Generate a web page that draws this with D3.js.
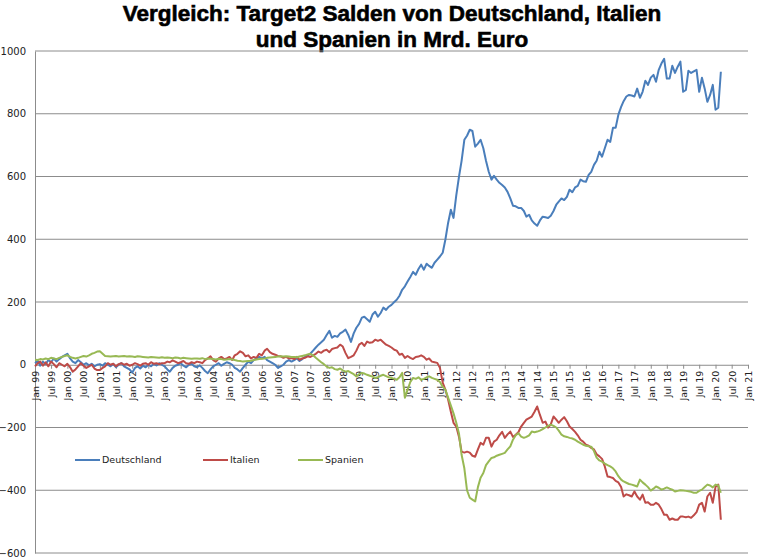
<!DOCTYPE html>
<html>
<head>
<meta charset="utf-8">
<script src="https://cdn.jsdelivr.net/npm/d3@7"></script>
<style>
  body { margin: 0; background: #fff; }
  svg { display: block; }
</style>
</head>
<body>
<svg id="chart" width="757" height="559"></svg>
<script>
// Monatswerte Jan 1999 .. Mar 2020 (Mrd. Euro), one row per year
const deutschland = [
  5, 12, -3, 10, 2, 15, 8, 20, 10, 18, 25, 30,
  35, 20, 10, 5, 15, 8, 0, 5, -2, 3, -5, 0,
  2, -3, 5, 0, -5, 3, -8, 0, 5, -5, -10, -15,
  -25, -10, -5, -12, -3, -8, 0, -5, 3, -2, 5, 0,
  -5, -15, -22, -10, -3, 0, 5, -3, -8, 0, 3, -5,
  -8, -2, -10, -20, -27, -15, -5, 0, 5, -3, 3, 8,
  5, 0, -10, -15, -22, -10, 0, 10, 5, 15, 20, 25,
  20, 25, 15, 10, 5, 0, -10, -5, 0, 10, 15, 10,
  15, 20, 12, 18, 25, 30, 35, 45, 55, 64, 72, 80,
  95, 108, 86, 92, 89, 100, 105, 112, 95, 73, 100, 118,
  130, 150, 153, 145, 137, 160, 169, 153, 165, 182, 175, 185,
  191, 200, 207, 220, 239, 250, 265, 280, 296, 287, 305, 319,
  303, 322, 315, 309, 325, 335, 345, 357, 400, 452, 494, 468,
  540, 600, 650, 717, 730, 749, 745, 695, 705, 717, 690, 650,
  615, 590, 602, 590, 580, 573, 565, 551, 530, 507, 505, 500,
  500, 490, 472, 478, 460, 450, 443, 460, 472, 470, 468, 475,
  490, 510, 520, 530, 525, 535, 558, 550, 565, 570, 590, 585,
  583, 605, 615, 637, 650, 679, 663, 690, 717, 710, 755, 755,
  797, 822, 840, 855, 860, 858, 855, 880, 851, 870, 905, 892,
  915, 924, 902, 940, 960, 975, 912, 912, 953, 930, 950, 966,
  870, 876, 937, 930, 935, 940, 870, 915, 880, 838, 860, 892,
  813, 819, 934
];
const italien = [
  -5, 5, 10, -3, 8, -5, 10, 2, -8, 5, 0, -5,
  3, -8, -22, -15, -5, 5, -3, -10, -5, 0, -12, -17,
  -17, -10, -5, 5, 0, 3, -5, 2, 5, 0, 3, -3,
  0, 5, 2, -3, 3, 5, 0, 8, 3, 5, 2, 5,
  5, 10, 8, 14, 10, 5, 8, 12, 5, 3, 8, 5,
  10, 8, 5, 15, 20, 27, 15, 10, 20, 25, 18, 20,
  25, 15, 30, 35, 43, 38, 27, 30, 20, 25, 22, 35,
  30, 45, 51, 40, 35, 32, 28, 27, 22, 25, 20, 21,
  18, 25, 16, 20, 22, 27, 25, 30, 35, 42, 38, 45,
  48, 40, 50, 53, 55, 64, 58, 37, 21, 25, 30, 45,
  64, 70, 60, 74, 70, 72, 80, 76, 80, 72, 64, 60,
  55, 48, 45, 32, 35, 22, 28, 22, 18, 25, 26, 30,
  25, 16, 20, 10, 8, 6, -10, -57, -80, -111, -150, -185,
  -197, -230, -277, -280, -277, -280, -290, -293, -270, -249, -255, -233,
  -233, -261, -245, -239, -225, -214, -233, -222, -213, -230, -223, -215,
  -197, -185, -175, -170, -165, -150, -133, -160, -185, -181, -200, -190,
  -165, -175, -185, -175, -167, -180, -197, -205, -214, -225, -239, -245,
  -255, -258, -265, -270, -285, -292, -300, -324, -356, -358, -361, -370,
  -375, -390, -420, -413, -416, -420, -404, -420, -430, -414, -440, -438,
  -446, -446, -440, -446, -460, -478, -478, -494, -490, -494, -494, -484,
  -484, -486, -484, -488, -480, -470, -446, -440, -468, -420, -408, -440,
  -389, -382, -494
];
const spanien = [
  16, 15, 18, 17, 20, 18, 22, 20, 18, 22, 25, 28,
  30, 25, 22, 20, 22, 25, 28, 26, 30, 35, 38, 42,
  43, 35, 28, 27, 26, 27, 28, 26, 27, 28, 26, 27,
  26, 25, 27, 26, 25, 24, 23, 25, 24, 23, 22, 24,
  22, 23, 22, 21, 23, 22, 20, 22, 21, 20, 19, 20,
  20, 19, 21, 18, 20, 19, 18, 17, 19, 18, 16, 17,
  18, 17, 15, 13, 12, 10, 11, 12, 13, 15, 17, 18,
  19, 20, 22, 23, 24, 25, 26, 27, 26, 27, 26, 25,
  25, 24, 26, 28, 30, 33, 35, 30, 22, 15, 8, 2,
  -6, -10, -8, -14, -16, -12, -18, -22, -20, -25, -30, -37,
  -30, -26, -28, -32, -35, -38, -42, -40, -35, -32, -36, -40,
  -42, -45, -48, -40, -26, -105, -80, -55, -42, -45, -40, -48,
  -45, -40, -37, -42, -45, -48, -55, -70, -80, -105, -130, -155,
  -185, -220, -287, -330, -400, -424, -430, -436, -390, -360, -345, -320,
  -308, -297, -295, -290, -287, -284, -281, -270, -260, -239, -225, -218,
  -229, -233, -230, -225, -213, -215, -213, -210, -205, -200, -195, -191,
  -195, -200, -210, -223, -228, -230, -233, -235, -239, -245, -250, -255,
  -258, -260, -261, -275, -296, -305, -309, -315, -320, -324, -330, -340,
  -355, -366, -372, -376, -380, -382, -385, -388, -366, -375, -382, -390,
  -401, -395, -388, -392, -398, -395, -391, -395, -398, -404, -402, -400,
  -401, -402, -403, -405, -408, -408, -402, -398, -390, -382, -385, -391,
  -382, -385, -408
];

const yTicks = [1000, 800, 600, 400, 200, 0, -200, -400, -600];
const seriesNames = ["Deutschland", "Italien", "Spanien"];
const seriesColors = ["#4a7ebb", "#be4b48", "#98b954"];
const titleLines = ["Vergleich: Target2 Salden von Deutschland, Italien", "und Spanien in Mrd. Euro"];

const svg = d3.select("#chart");
const plotLeft = 35, plotRight = 748, plotTop = 51, plotBottom = 553;

const x = d3.scaleTime()
  .domain([new Date(1999, 0, 1), new Date(2021, 0, 1)])
  .range([plotLeft, plotRight]);
const y = d3.scaleLinear().domain([-600, 1000]).range([plotBottom, plotTop]);

// title
svg.append("g").selectAll("text")
  .data(titleLines)
  .join("text")
  .attr("x", 392)
  .attr("y", (d, i) => 21 + i * 26)
  .attr("text-anchor", "middle")
  .style("font-family", "'Liberation Sans', Arial, sans-serif")
  .style("font-weight", "bold")
  .style("font-size", "22.5px")
  .attr("fill", "#000")
  .attr("stroke", "#000")
  .attr("stroke-width", 0.6)
  .text(d => d);

// gridlines
svg.append("g").selectAll("line")
  .data(yTicks.filter(d => d !== 0))
  .join("line")
  .attr("x1", plotLeft).attr("x2", plotRight)
  .attr("y1", d => y(d)).attr("y2", d => y(d))
  .attr("stroke", "#8c8c8c")
  .attr("stroke-width", 1);

// y axis
const yAxis = svg.append("g")
  .attr("transform", `translate(${plotLeft},0)`)
  .call(d3.axisLeft(y).tickValues(yTicks).tickFormat(d3.format("d")).tickSize(0).tickPadding(9));
yAxis.select(".domain").attr("stroke", "#8c8c8c");
yAxis.selectAll("text")
  .style("font-family", "'DejaVu Sans', sans-serif")
  .style("font-size", "10px")
  .attr("fill", "#222");

// x axis at zero
const xAxis = svg.append("g")
  .attr("transform", `translate(0,${y(0)})`)
  .call(d3.axisBottom(x)
    .ticks(d3.timeMonth.every(6))
    .tickFormat(d3.timeFormat("%b %y"))
    .tickSize(4)
    .tickSizeOuter(0));
xAxis.select(".domain").attr("stroke", "#8c8c8c");
xAxis.selectAll(".tick line").attr("stroke", "#8c8c8c");
xAxis.selectAll("text")
  .attr("transform", "rotate(-90)")
  .attr("text-anchor", "end")
  .attr("x", -6)
  .attr("y", 0)
  .attr("dy", "0.35em")
  .style("font-family", "'DejaVu Sans', sans-serif")
  .style("font-size", "9.5px")
  .attr("fill", "#222");

// lines
const allSeries = [deutschland, italien, spanien];
const line = d3.line()
  .x((d, i) => x(new Date(1999, i, 1)))
  .y(d => y(d));

svg.append("g").selectAll("path")
  .data(allSeries)
  .join("path")
  .attr("d", d => line(d))
  .attr("fill", "none")
  .attr("stroke", (d, i) => seriesColors[i])
  .attr("stroke-width", 2)
  .attr("stroke-linejoin", "round");

// legend
const legendX = [75, 203, 298];
const legend = svg.append("g").selectAll("g")
  .data(seriesNames)
  .join("g")
  .attr("transform", (d, i) => `translate(${legendX[i]},460)`);
legend.append("line")
  .attr("x1", 0).attr("x2", 25)
  .attr("stroke", (d, i) => seriesColors[i])
  .attr("stroke-width", 2);
legend.append("text")
  .attr("x", 27)
  .attr("dy", "0.35em")
  .style("font-family", "'DejaVu Sans', sans-serif")
  .style("font-size", "9.5px")
  .attr("fill", "#222")
  .text(d => d);
</script>
</body>
</html>
